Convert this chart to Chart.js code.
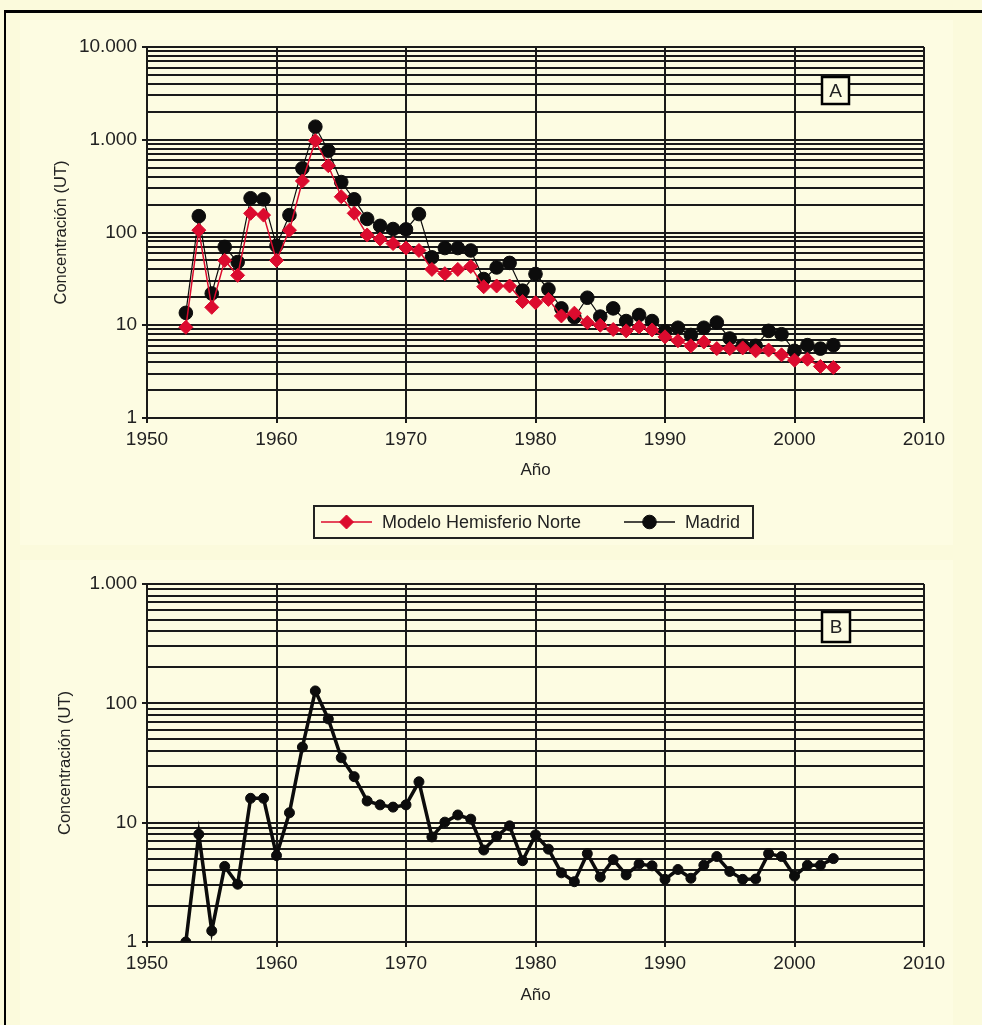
<!DOCTYPE html>
<html>
<head>
<meta charset="utf-8">
<script src="https://cdn.jsdelivr.net/npm/chart.js@4/dist/chart.umd.min.js"></script>
<style>
  html, body { margin: 0; padding: 0; }
  body { width: 982px; height: 1025px; background: #fbfadc; position: relative; overflow: hidden; font-family: "Liberation Sans", Arial, sans-serif; }
  #topline { position: absolute; left: 4px; top: 10px; width: 978px; height: 3px; background: #000; }
  #leftline { position: absolute; left: 4px; top: 10px; width: 2px; height: 1015px; background: #000; }
  canvas { position: absolute; }
  #c1 { left: 20px; top: 20px; }
  #c2 { left: 20px; top: 560px; }
</style>
</head>
<body>
<div id="topline"></div>
<div id="leftline"></div>
<canvas id="c1" width="933" height="525"></canvas>
<canvas id="c2" width="933" height="465"></canvas>
<script>
// ---- Data ----
const years = [1953,1954,1955,1956,1957,1958,1959,1960,1961,1962,1963,1964,1965,1966,1967,1968,1969,1970,1971,1972,1973,1974,1975,1976,1977,1978,1979,1980,1981,1982,1983,1984,1985,1986,1987,1988,1989,1990,1991,1992,1993,1994,1995,1996,1997,1998,1999,2000,2001,2002,2003];

const modeloHemisferioNorte = [9.5,106,15.6,50,34.5,161,154,50,106,359,977,525,243,161,94,85,76,68,64,40,36,40,43,26,26.5,26.5,18,17.5,19,12.6,13.5,10.7,10,9.0,8.7,9.6,8.9,7.5,6.8,6.0,6.6,5.6,5.6,5.7,5.3,5.4,4.8,4.2,4.3,3.6,3.5];

const madridA = [13.6,150,22,70,48,234,228,72,154,492,1383,762,350,228,140,118,109,108,158,54,68,68,64,31.5,42,47,23.6,35.7,24.4,15.2,12.2,19.8,12.4,15.2,11.1,12.9,11.1,8.6,9.4,7.85,9.4,10.7,7.2,6.0,6.0,8.7,8.0,5.3,6.1,5.6,6.1];

const madridB = [1.0,8.0,1.24,4.3,3.05,16,16,5.3,12.1,43,127,74,35,24.3,15.2,14.1,13.5,14.1,22,7.6,10.1,11.6,10.7,5.9,7.7,9.4,4.8,7.9,6.0,3.8,3.2,5.5,3.5,4.9,3.65,4.5,4.35,3.35,4.05,3.42,4.4,5.2,3.9,3.35,3.37,5.5,5.2,3.57,4.4,4.4,5.0];

const seriesNames = ['Modelo Hemisferio Norte', 'Madrid'];
const xTicks = [1950,1960,1970,1980,1990,2000,2010];
const yMajorTicksA = [1,10,100,1000,10000];
const yMajorLabelsA = ['1','10','100','1.000','10.000'];
const yMajorTicksB = [1,10,100,1000];
const yMajorLabelsB = ['1','10','100','1.000'];
const xTitle = 'Año';
const yTitle = 'Concentración (UT)';
const panelLabels = ['A','B'];

// ---- helpers ----
const FONT = '"Liberation Sans", Arial, sans-serif';
const GRID = '#1a1a1a';
const RED = '#dc0b2e';
const BLACK = '#0c0c0c';
const TEXT = '#222';

function pts(vals){ return years.map((y,i)=>({x:y, y:vals[i]})); }
function logGrid(majors){
  const out=[];
  for (let k=0;k<majors.length;k++){
    const m=majors[k];
    out.push({value:m, major:true});
    if (k<majors.length-1){ for (let s=2;s<=9;s++) out.push({value:m*s, major:false}); }
  }
  return out;
}
function isMajor(v, majors){ return majors.indexOf(v) >= 0; }

const bgPlugin = {
  id:'bg',
  beforeDraw(chart, args, opts){
    const c = chart.ctx;
    c.save(); c.fillStyle = opts.color; c.fillRect(0,0,chart.width,chart.height); c.restore();
  }
};
const boxLabelPlugin = {
  id:'boxLabel',
  afterDraw(chart, args, opts){
    const c = chart.ctx;
    c.save();
    c.fillStyle = opts.fill; c.fillRect(opts.x, opts.y, opts.w, opts.h);
    c.lineWidth = 2.5; c.strokeStyle = '#000'; c.strokeRect(opts.x, opts.y, opts.w, opts.h);
    c.fillStyle = TEXT; c.font = '19px ' + FONT; c.textAlign='center'; c.textBaseline='middle';
    c.fillText(opts.text, opts.x + opts.w/2, opts.y + opts.h/2 + 1);
    c.restore();
  }
};
const boxLegendPlugin = {
  id:'boxLegend',
  afterDraw(chart, args, opts){
    if (!opts.display) return;
    const c = chart.ctx;
    c.save();
    c.lineWidth = 2; c.strokeStyle = '#222';
    c.strokeRect(opts.x, opts.y, opts.w, opts.h);
    const cy = opts.y + opts.h/2;
    [0,1].forEach((di, k) => {
      const ds = chart.data.datasets[di];
      const sx = opts.items[k].x;
      c.strokeStyle = ds.borderColor; c.lineWidth = 1.5;
      c.beginPath(); c.moveTo(sx, cy); c.lineTo(sx + 51, cy); c.stroke();
      c.fillStyle = ds.pointBackgroundColor; c.strokeStyle = ds.borderColor; c.lineWidth = 1;
      Chart.helpers.drawPoint(c, {pointStyle: ds.pointStyle, radius: ds.pointRadius, rotation: 0, borderWidth: 1}, sx + 25.5, cy);
      c.fillStyle = TEXT; c.font = '18px ' + FONT; c.textAlign='left'; c.textBaseline='middle';
      c.fillText(ds.label, sx + 61, cy + 1);
    });
    c.restore();
  }
};

function makeOptions(cfg){
  return {
    responsive:false, animation:false, devicePixelRatio:1,
    layout:{ padding:{ left:0, right:29, top:cfg.padTop, bottom:cfg.padBottom } },
    plugins:{
      legend:{ display:false }, tooltip:{ enabled:false },
      bg:{ color:'#fdfce2' },
      boxLabel: cfg.boxLabel,
      boxLegend: cfg.boxLegend
    },
    scales:{
      x:{
        type:'linear', min:1950, max:2010,
        afterBuildTicks(scale){ scale.ticks = xTicks.map(v=>({value:v})); },
        afterFit(scale){ scale.height = cfg.xHeight; },
        ticks:{ autoSkip:false, color:TEXT, font:{family:FONT, size:19}, padding:5, maxRotation:0,
                callback:(v)=>String(v) },
        grid:{ color:GRID, lineWidth:2, tickLength:5, tickColor:GRID, tickWidth:2 },
        border:{ color:GRID, width:2 },
        title:{ display:true, text:xTitle, color:TEXT, font:{family:FONT, size:17}, padding:{top:0,bottom:1} }
      },
      y:{
        type:'logarithmic', min:cfg.yMin, max:cfg.yMax,
        afterBuildTicks(scale){ scale.ticks = logGrid(cfg.majors); },
        afterFit(scale){ scale.width = 127; },
        ticks:{ autoSkip:false, color:TEXT, font:{family:FONT, size:19}, padding:5,
                callback:(v)=>{ const i = cfg.majors.indexOf(v); return i>=0 ? cfg.majorLabels[i] : ''; } },
        grid:{ color:GRID, lineWidth:2, tickLength:5, tickWidth:2,
               tickColor:(ctx)=> (ctx.tick && isMajor(ctx.tick.value, cfg.majors)) ? GRID : 'rgba(0,0,0,0)' },
        border:{ color:GRID, width:2 },
        title:{ display:true, text:yTitle, color:TEXT, font:{family:FONT, size:16.5}, padding:{top:cfg.yTitlePad,bottom:0} }
      }
    }
  };
}

// ---- Chart A ----
new Chart(document.getElementById('c1'), {
  type:'line',
  data:{ datasets:[
    { label:seriesNames[0], data:pts(modeloHemisferioNorte), borderColor:RED, backgroundColor:RED,
      pointBackgroundColor:RED, pointBorderColor:RED, pointStyle:'rectRot', pointRadius:7, pointBorderWidth:1,
      borderWidth:1.5, tension:0, fill:false },
    { label:seriesNames[1], data:pts(madridA), borderColor:BLACK, backgroundColor:BLACK,
      pointBackgroundColor:BLACK, pointBorderColor:BLACK, pointStyle:'circle', pointRadius:6.8, pointBorderWidth:1,
      borderWidth:1.2, tension:0, fill:false }
  ]},
  options: makeOptions({ padTop:27, padBottom:63, xHeight:64, yMin:1, yMax:10000,
    majors:yMajorTicksA, majorLabels:yMajorLabelsA, yTitlePad:32,
    boxLabel:{ x:802, y:57, w:27, h:27, text:panelLabels[0], fill:'#fdfce2' },
    boxLegend:{ display:true, x:294, y:486, w:439, h:32, items:[{x:301},{x:604}] } }),
  plugins:[bgPlugin, boxLabelPlugin, boxLegendPlugin]
});

// ---- Chart B ----
new Chart(document.getElementById('c2'), {
  type:'line',
  data:{ datasets:[
    { label:seriesNames[1], data:pts(madridB), borderColor:BLACK, backgroundColor:BLACK,
      pointBackgroundColor:BLACK, pointBorderColor:BLACK, pointStyle:'circle', pointRadius:5, pointBorderWidth:1,
      borderWidth:3.5, tension:0, fill:false }
  ]},
  options: makeOptions({ padTop:24, padBottom:18, xHeight:65, yMin:1, yMax:1000,
    majors:yMajorTicksB, majorLabels:yMajorLabelsB, yTitlePad:36,
    boxLabel:{ x:802, y:52, w:28, h:30, text:panelLabels[1], fill:'#fdfce2' },
    boxLegend:{ display:false } }),
  plugins:[bgPlugin, boxLabelPlugin, boxLegendPlugin]
});
</script>
</body>
</html>
